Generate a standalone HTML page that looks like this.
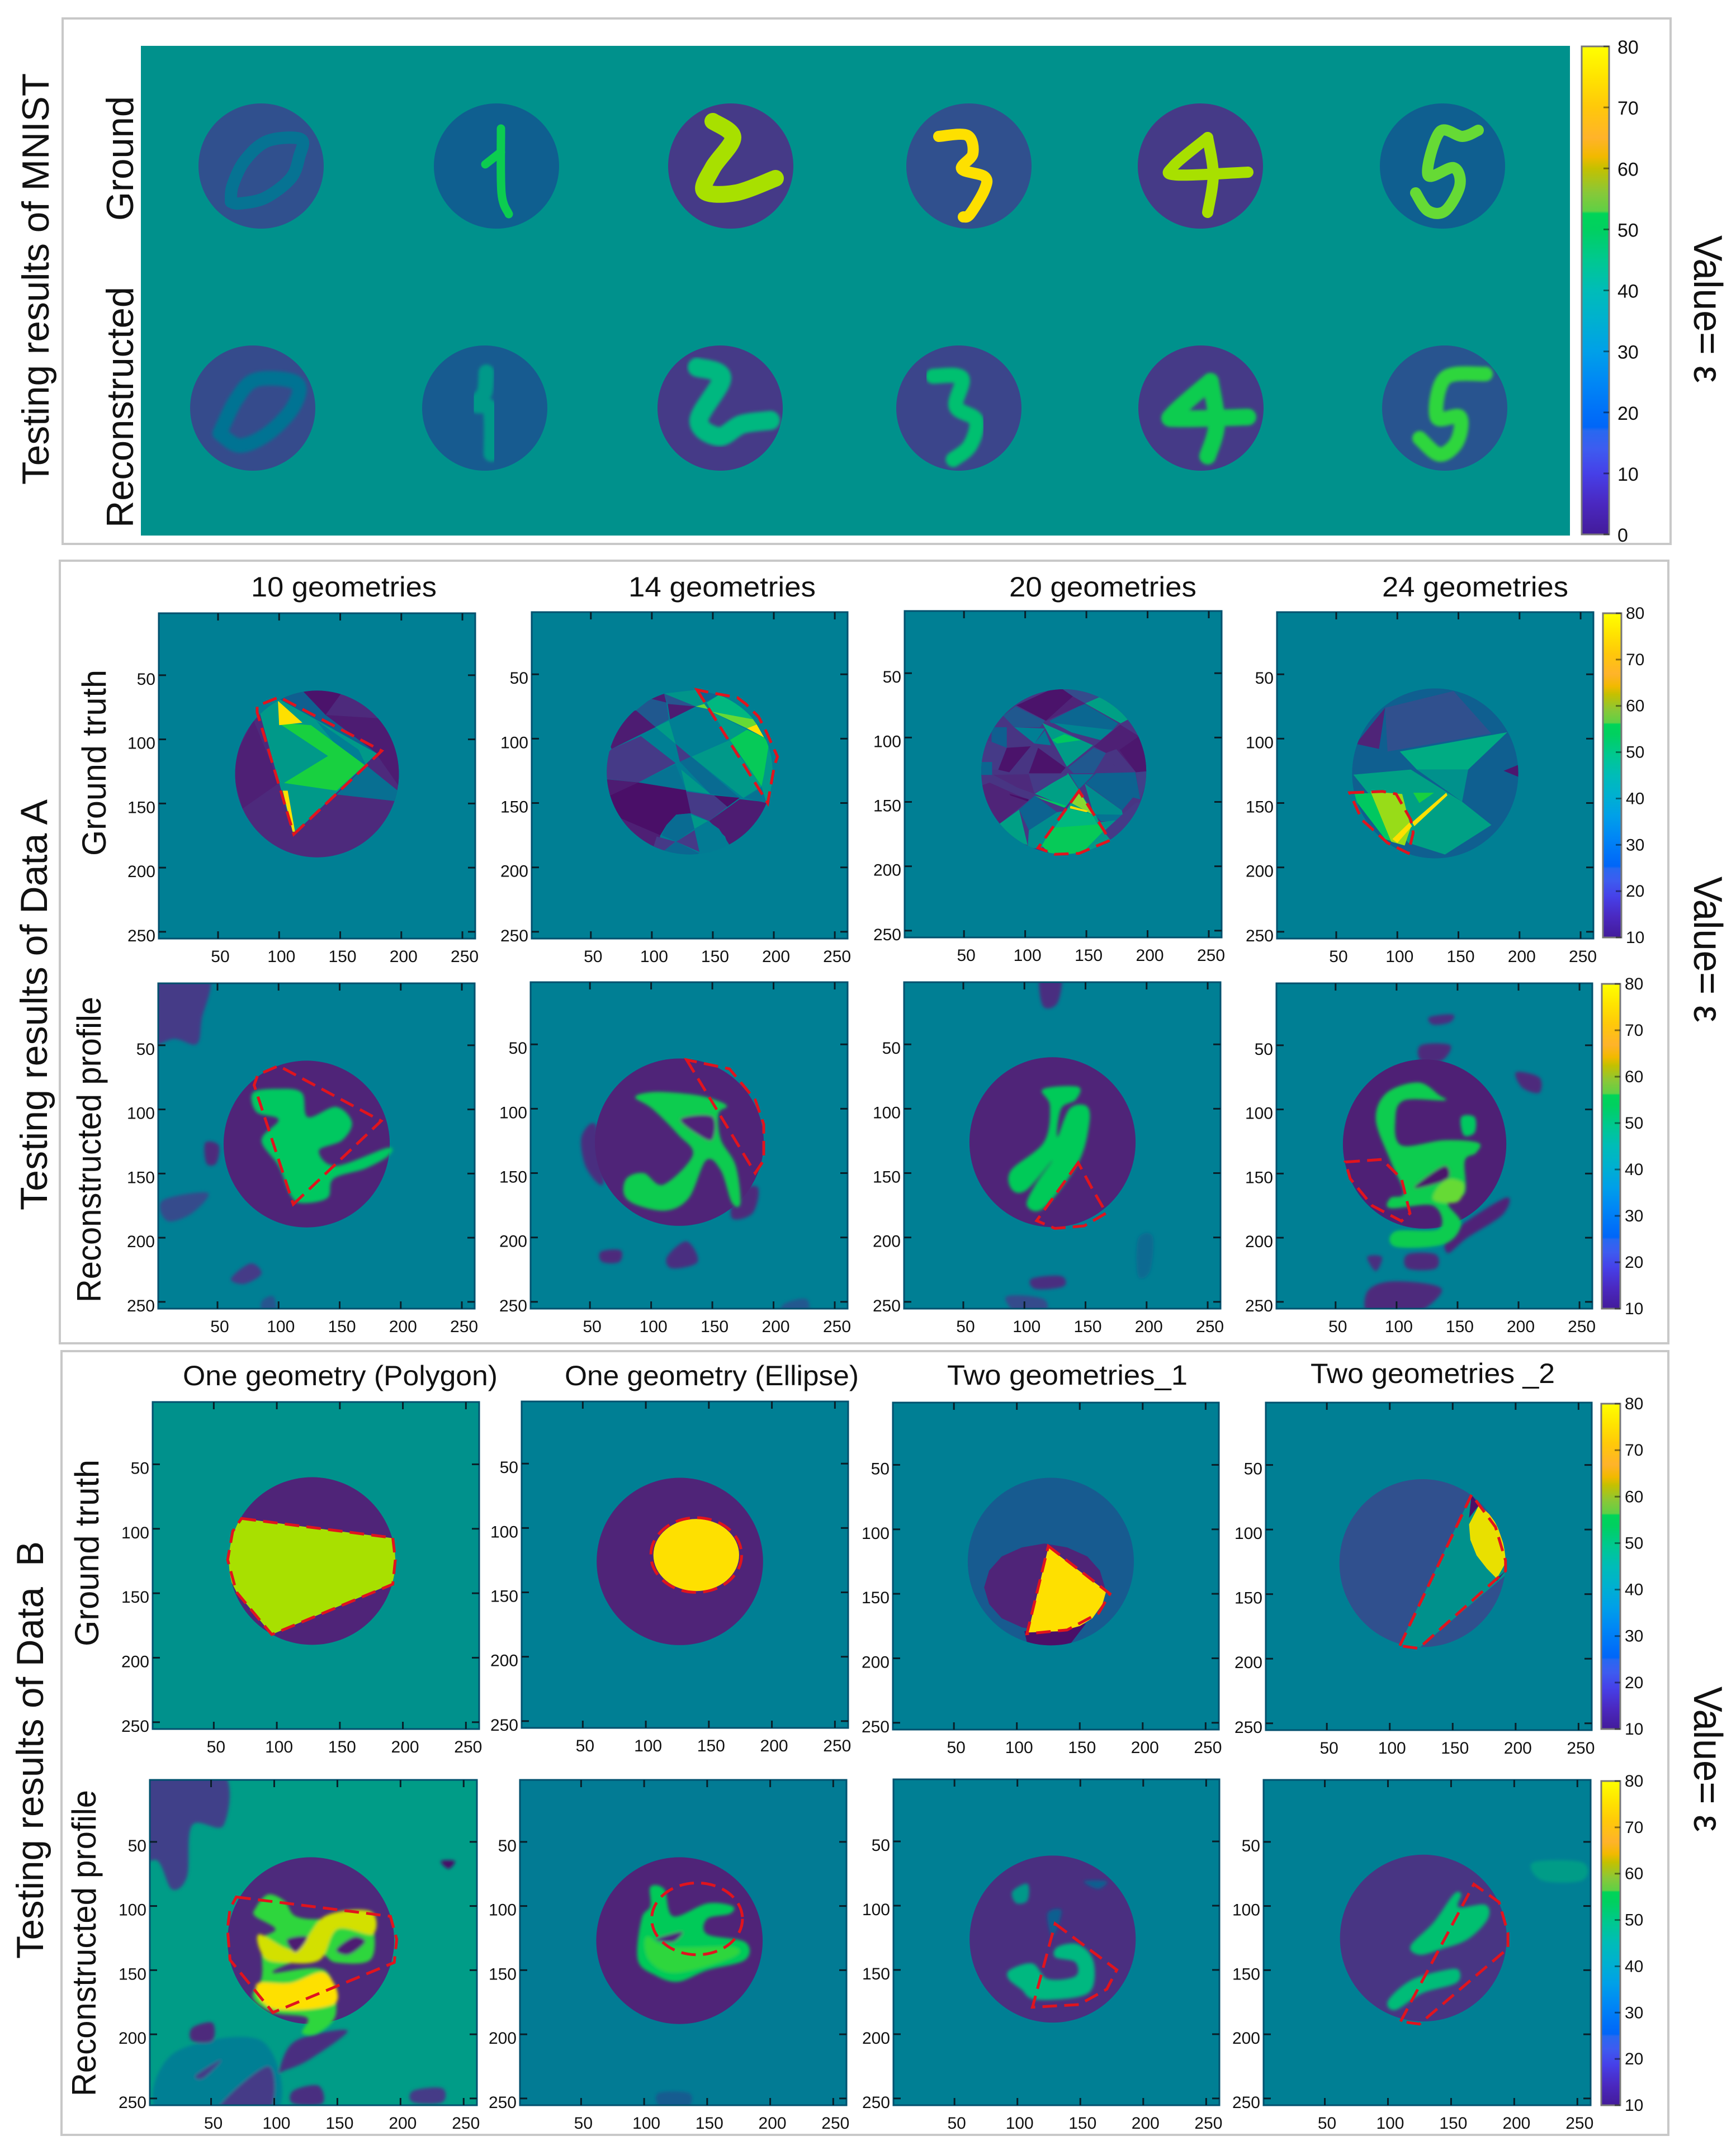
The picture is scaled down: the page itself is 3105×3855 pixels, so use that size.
<!DOCTYPE html>
<html lang="en">
<head>
<meta charset="utf-8">
<title>Testing results of MNIST, Data A and Data B</title>
<style>
html,body{margin:0;padding:0;background:#fff;}
svg{display:block;}
text{font-family:"Liberation Sans",sans-serif;fill:#111;}
</style>
</head>
<body>
<svg id="figure" xmlns="http://www.w3.org/2000/svg" width="3105" height="3855" viewBox="0 0 3105 3855">
  <defs>
    <linearGradient id="cbar-gradient" x1="0" y1="0" x2="0" y2="1"></linearGradient>
    <filter id="soft-blur" x="-15%" y="-15%" width="130%" height="130%"><feGaussianBlur stdDeviation="2.8"></feGaussianBlur></filter>
    <filter id="fine-blur" x="-15%" y="-15%" width="130%" height="130%"><feGaussianBlur stdDeviation="0.8"></feGaussianBlur></filter>
  </defs>
  <rect width="3105" height="3855" fill="#fff"></rect>

  <rect x="112" y="33" width="2876" height="940" fill="#fff" stroke="#C8C8C8" stroke-width="4"></rect>
  <rect x="107" y="1003" width="2877" height="1400" fill="#fff" stroke="#C8C8C8" stroke-width="4"></rect>
  <rect x="110" y="2417" width="2874" height="1402" fill="#fff" stroke="#C8C8C8" stroke-width="4"></rect>

  <text transform="translate(87,867) rotate(-90)" font-size="68" textLength="736" lengthAdjust="spacingAndGlyphs">Testing results of MNIST</text>
  <text transform="translate(238,395) rotate(-90)" font-size="68" textLength="223" lengthAdjust="spacingAndGlyphs">Ground</text>
  <text transform="translate(238,944) rotate(-90)" font-size="68" textLength="431" lengthAdjust="spacingAndGlyphs">Reconstructed</text>
  <text transform="translate(3030,421) rotate(90)" font-size="72" textLength="264" lengthAdjust="spacingAndGlyphs">Value=  ε</text>

  <text transform="translate(84,2165) rotate(-90)" font-size="68" textLength="735" lengthAdjust="spacingAndGlyphs">Testing results of Data A</text>
  <text transform="translate(189,1531) rotate(-90)" font-size="60" textLength="333" lengthAdjust="spacingAndGlyphs">Ground truth</text>
  <text transform="translate(180,2330) rotate(-90)" font-size="60" textLength="547" lengthAdjust="spacingAndGlyphs">Reconstructed profile</text>
  <text transform="translate(3030,1568) rotate(90)" font-size="72" textLength="261" lengthAdjust="spacingAndGlyphs">Value=  ε</text>
  <text x="449" y="1067" font-size="50" textLength="332" lengthAdjust="spacingAndGlyphs">10 geometries</text>
  <text x="1124" y="1067" font-size="50" textLength="335" lengthAdjust="spacingAndGlyphs">14 geometries</text>
  <text x="1805" y="1067" font-size="50" textLength="335" lengthAdjust="spacingAndGlyphs">20 geometries</text>
  <text x="2472" y="1067" font-size="50" textLength="333" lengthAdjust="spacingAndGlyphs">24 geometries</text>

  <text transform="translate(77,3504) rotate(-90)" font-size="68" textLength="747" lengthAdjust="spacingAndGlyphs" xml:space="preserve">Testing results of Data  B</text>
  <text transform="translate(176,2945) rotate(-90)" font-size="60" textLength="334" lengthAdjust="spacingAndGlyphs">Ground truth</text>
  <text transform="translate(171,3750) rotate(-90)" font-size="60" textLength="548" lengthAdjust="spacingAndGlyphs">Reconstructed profile</text>
  <text transform="translate(3030,3017) rotate(90)" font-size="72" textLength="260" lengthAdjust="spacingAndGlyphs">Value=  ε</text>
  <text x="327" y="2478" font-size="50" textLength="563" lengthAdjust="spacingAndGlyphs">One geometry (Polygon)</text>
  <text x="1010" y="2478" font-size="50" textLength="526" lengthAdjust="spacingAndGlyphs">One geometry (Ellipse)</text>
  <text x="1694" y="2477" font-size="50" textLength="430" lengthAdjust="spacingAndGlyphs">Two geometries_1</text>
  <text x="2344" y="2474" font-size="50" textLength="437" lengthAdjust="spacingAndGlyphs" xml:space="preserve">Two geometries _2</text>

  <g id="layer-mnist"></g>
  <g id="layer-panels"></g>
  <g id="layer-colorbars"></g>
</svg>
<script>
// ---------- shared value scales ----------
const axisTickValues = [50, 100, 150, 200, 250];
const mnistColorbarTicks = [0, 10, 20, 30, 40, 50, 60, 70, 80];
const panelColorbarTicks = [10, 20, 30, 40, 50, 60, 70, 80];
const colorbarStopValues = [80, 75, 70, 65, 62, 60, 56, 53, 52.6, 50, 45, 40, 35, 30, 25, 20, 17.6, 17, 14, 10, 5, 0];
const colorbarStopColors = ['#FFFF00','#FFE400','#FFC80A','#FFB32A','#F2B900','#C5C000','#88C838','#5FD045','#00D458','#00D060','#00C890','#00BCB8','#00B0D0','#00A0E8','#0088F5','#0070F8','#0066F8','#2868F0','#3D5CF0','#4640E8','#4A28C0','#431B9A'];
const imageValues = [5, 10, 14, 18, 22, 30, 34, 38, 42, 46, 50, 54, 58, 62, 66];
const imageColors = ['#4A0F68','#4F2478','#453A87','#30508E','#0F5F90','#007F94','#00918C','#00A085','#00B880','#00C860','#18D040','#44DC3A','#88D830','#A8E000','#FEE000'];

// ---------- MNIST digits (disc values, digit values, stroke outlines) ----------
const mnistDiscX = [215, 636, 1055, 1481, 1895, 2328, 200, 615, 1036, 1463, 1896, 2332];
const mnistDiscY = [215, 215, 215, 215, 215, 215, 648, 648, 648, 648, 648, 648];
const mnistDiscValues = [18, 22, 14, 18, 14, 22, 17, 21, 14, 16, 14, 19];
const mnistDigitValues = [27, 48, 62, 66, 62, 56, 27, 36, 42, 44, 48, 52];
const mnistDigitThickness = [22, 15, 30, 20, 20, 20, 26, 28, 34, 27, 30, 26];
const mnistDigitStrokes = [
  [[[-54,64],[-51,35],[-29,-10],[12,-45],[71,-48],[68,-16],[53,22],[7,57],[-39,67],[-54,64]]],
  [[[-20,-3],[8,-25]],[[8,-67],[9,48],[22,86]]],
  [[[-32,-80],[4,-51],[-32,3],[-47,45],[9,48],[80,22]]],
  [[[-54,-53],[-3,-55],[7,-22],[-13,5],[28,19],[28,42],[2,86],[-10,91]]],
  [[[13,-51],[-48,0],[-43,16],[85,11]],[[13,-51],[23,16],[13,83]]],
  [[[64,-64],[36,-53],[-5,-61],[-26,16],[20,3],[31,35],[5,80],[-26,80],[-48,48]]],
  [[[-59,45],[-23,67],[28,45],[73,-3],[78,-45],[7,-51],[-29,-16],[-59,45]]],
  [[[3,-64],[0,-29],[-15,-6],[10,3],[12,82]]],
  [[[-41,-73],[3,-54],[-38,22],[-2,51],[39,29],[90,22]]],
  [[[-46,-57],[5,-54],[-5,-3],[31,22],[20,67],[-10,92]]],
  [[[17,-48],[-49,10],[-39,19],[84,16]],[[17,-48],[28,29],[12,86]]],
  [[[73,-61],[1,-54],[-14,16],[27,16],[22,60],[-9,83],[-45,54]]]
];

// ---------- Data A ground truth ----------
const a1Disc = [131, 127, 67, 65, 11];
const a1Values = [6, 8, 9, 36, 22, 30, 26, 50, 66, 66];
const a1Shapes = [
  [[119,62],[154,60],[138,81]],
  [[138,81],[205,85],[205,146],[180,112]],
  [[79,85],[60,120],[70,154],[100,134]],
  [[84,79],[99,68],[180,111],[112,174],[100,134]],
  [[99,68],[119,62],[138,81],[180,111]],
  [[130,85],[165,108],[171,120],[158,118]],
  [[171,120],[205,146],[194,148],[147,143]],
  [[99,87],[126,89],[170,120],[147,140],[104,134],[140,113]],
  [[99,70],[119,87],[100,89]],
  [[103,140],[107,140],[113,172],[111,172]]
];
const a1Dash = [[112,174],[184,109],[100,67],[82,74],[82,79]];

const a2Disc = [131, 126, 68, 64, 30];
const a2Values = [35, 23, 19, 8, 8, 20, 8, 14, 37, 14, 25, 27, 36, 36, 47, 42, 36, 56, 56, 66, 36, 5, 8, 9, 14, 5, 8, 27, 25, 36, 29, 14, 14, 24];
const a2Shapes = [
  [[110,65],[137,62],[145,72],[136,75]],
  [[137,62],[155,66],[143,72]],
  [[110,65],[136,75],[113,73]],
  [[99,69],[110,65],[112,72]],
  [[113,73],[136,75],[115,85]],
  [[87,78],[99,69],[112,72],[114,85],[103,91]],
  [[87,78],[103,91],[67,108],[61,95],[74,81]],
  [[67,108],[91,98],[119.5,119],[89,134],[60,131],[58,117]],
  [[103,91],[114,86],[119.5,104]],
  [[119.5,104],[132,114],[123,118]],
  [[123,118],[132.5,114],[172,146],[148,143]],
  [[89,134],[119.5,120],[128,140]],
  [[124,124],[148,143],[128,140]],
  [[132.5,114],[164,101],[168,108],[190,137],[175,146]],
  [[164,101],[178,93],[192,99],[196,104],[192,128],[190,137]],
  [[145,72],[155,66],[172,70],[190,86],[181,85],[149,79]],
  [[149,79],[178,93],[164,101]],
  [[149,79],[183,85],[186,89],[178,92]],
  [[136,75],[143,73],[146,77]],
  [[178,92],[186,89],[192,99]],
  [[196,104],[205,124],[194,150],[190,137],[192,128]],
  [[62,143],[89,134],[128,140],[132,158],[120,159],[112,167],[107,175],[70,170]],
  [[58,131],[89,134],[64,145]],
  [[70,160],[107,175],[104,188],[70,180]],
  [[128,141],[151,144],[162,153],[147,164],[132,158]],
  [[151,144],[172,146],[162,153]],
  [[147,164],[172,147],[200,150],[190,170],[164,186],[160,176]],
  [[176,146],[190,138],[194,150]],
  [[108,175],[112,167],[120,159],[132,158],[135,170],[120,180]],
  [[132,159],[146,164],[135,170]],
  [[135,170],[146,164],[155,170],[164,183],[139,192]],
  [[104,176],[119.5,180],[110,187],[100,188]],
  [[120,180],[135,171],[139,188]],
  [[110,187],[120,180],[139,189],[125,195]]
];
const a2Dash = [[137,62],[195,150],[198,134],[200.5,121],[203,114],[194,95],[187.5,83],[177,73],[170,68],[147,64]];

const a3Disc = [131.5, 126.5, 67.4, 64, 13];
const a3Values = [22, 14, 24, 6, 10, 17, 38, 24, 20, 30, 31, 28, 37, 46, 9, 7, 20, 13, 23, 15, 28, 38, 46, 6, 6, 13, 11, 14, 10, 5, 38, 23, 33, 33, 27, 34, 14, 38, 47, 42, 58, 66, 36];
const a3Shapes = [
  [[72.5,92],[85,92],[85,108],[72.5,108]],
  [[60,125],[69,102],[85,108],[78,125]],
  [[64,119],[73,119],[73,129],[64,129]],
  [[93,75],[127,60],[139,68],[117,87]],
  [[117,87],[139,68],[149,73.5],[124,84]],
  [[127,60],[139.5,60],[162,68],[149,73.5],[139,68]],
  [[149,73.5],[162,68],[186,85],[178,89]],
  [[120,87],[144,75.6],[149,74],[176,89],[171.5,94],[121,88.7]],
  [[82,83],[92,75.6],[116,87],[112,92],[91,92]],
  [[91,92],[116,93],[107.5,104.6]],
  [[123,88.7],[171.5,94],[161.6,102],[138,96]],
  [[107.5,104.6],[116,94.5],[121,106]],
  [[114,88.7],[155.5,106],[134,122.7]],
  [[122,101.7],[132,97.4],[145.6,102],[126,104.6]],
  [[156,106.8],[177.6,90],[193,99],[202,126],[190.5,127],[174.5,109],[166,112]],
  [[177,109.6],[193,99],[202,126],[190.5,127]],
  [[135,123.4],[156,108],[166,112],[156,127.7],[139.5,127.7]],
  [[156,127.7],[166,113],[177,127]],
  [[149.4,135.7],[158,127.7],[190,127],[194,148],[188,146.5],[179,156.7]],
  [[190.5,127],[202,126],[194,148]],
  [[136.5,128.5],[156,128.5],[148.6,135.7],[144,140]],
  [[108,143.7],[135,127.7],[144,140.8],[133,154],[126,151]],
  [[107.5,145],[133.4,153],[132,154.5],[113.6,148]],
  [[78,125],[85,108],[104.5,106.8],[87,127]],
  [[103,127.7],[110.6,108],[133,123.4],[129,127.7]],
  [[85,92],[91,92],[106,105],[85,108]],
  [[74,129],[103,128.5],[107.5,143.7],[94,139]],
  [[103,128.5],[135,128.5],[107.5,143]],
  [[62,138],[71,135],[103,148.7],[79,167],[70,154]],
  [[87,143.7],[103,148],[102,149.5],[88,145]],
  [[79,167],[95,156],[102,183.5],[85,178]],
  [[95,156],[108,145],[126,158],[103,172]],
  [[102,186],[103,172],[126,158],[133,157],[113.6,186]],
  [[148.6,135.7],[179,156.7],[180,161],[156,159.6]],
  [[156,159.6],[180.6,160],[183.7,165],[162,165]],
  [[159,166],[176,164],[164.6,172.6]],
  [[164.6,172.6],[179,160],[190,151],[196,149.5],[186,170],[170,180]],
  [[144,141.5],[133,157],[113.6,184],[122,192],[144,192],[168,180],[164,172.6],[158,161]],
  [[122,170],[159,167],[164,172.6],[144,192],[122,192],[113.6,184]],
  [[135,155],[154.7,159.6],[159,167.5],[124,170]],
  [[144,141.5],[150,151],[154.7,159.6],[138,151]],
  [[137,153],[151.7,157],[150,158],[136.5,155]],
  [[144,192],[170,180],[164,172.6]]
];
const a3Dash = [[144,141.5],[110.6,185.6],[124,190.7],[144,190],[169,180],[164.6,172.6]];

const a4Disc = [131, 127, 68, 66, 22];
const a4Values = [10, 18, 40, 38, 34, 46, 60, 66, 66, 50, 7];
const a4Shapes = [
  [[66,104],[90,76],[85,108]],
  [[146,63],[177,96],[92,110],[90,76]],
  [[102,110],[190,95],[158,124],[116,124]],
  [[64,128],[111,124],[153,149],[177,167],[139,190],[109,181]],
  [[116,124],[158,124],[153,149]],
  [[61,142],[99,143],[111,169],[106,183],[90,178]],
  [[78,141],[104,143],[111,169],[106,183],[95,180]],
  [[96,178],[110,165],[112,168],[100,181]],
  [[112,165],[140,142],[141,144],[114,168]],
  [[113,142],[130,142],[118,150]],
  [[187,125],[200,120],[200,130]]
];
const a4Dash = [[61,142],[88,141],[99,143],[111,163],[113,173],[109,189],[92,181],[71,163]];

// ---------- Data A reconstructed ----------
const a5Disc = [123, 127, 68, 65, 10];
const a5BlobValues = [14, 17, 11, 14, 19];
const a5Blobs = [
  [[-8,-5],[42,-5],[37,30],[33,49],[15,45],[-8,47]],
  [[5,171],[42,165],[29,181],[9,187]],
  [[40,126],[51,128],[49,142],[41,142]],
  [[61,232],[77,220],[86,228],[72,236]],
  [[86,250],[96,246],[98,262],[88,262]]
];
const a5Values = [46];
const a5Shapes = [
  [[79,87],[100,84],[119,87],[124,106],[147,98],[160,110],[152,124],[133,132],[147,144],[189,130],[190,136],[171,146],[145,154],[140,169],[119,173],[110,167],[100,144],[86,124],[100,108],[82,102]]
];
const a5Dash = [[112,174],[184,109],[100,66],[83,73],[80,81]];

const a6Disc = [123, 126, 69, 65, 10];
const a6BlobValues = [12, 11, 11, 12, 20];
const a6Blobs = [
  [[43,122],[55,113],[61,158],[47,146]],
  [[169,165],[187,161],[183,181],[166,185]],
  [[59,211],[75,210],[74,219],[60,219]],
  [[113,215],[129,203],[138,219],[117,224]],
  [[208,252],[227,248],[227,262],[208,262]]
];
const a6Values = [48, 10];
const a6Shapes = [
  [[87,91],[103,87],[134,89],[152,93],[162,98],[155,104],[157,124],[169,144],[173,173],[166,173],[157,148],[145,140],[131,169],[113,179],[89,175],[78,167],[80,154],[94,150],[110,159],[134,136],[122,120],[101,100]],
  [[124,108],[150,106],[150,124],[138,120]]
];
const a6Dash = [[129,62],[185,150],[192,140],[192,112],[185,93],[164,69]];

const a7Disc = [123, 126, 68, 66, 10];
const a7BlobValues = [12, 12, 17, 25];
const a7Blobs = [
  [[113,-5],[130,-5],[127,18],[115,20]],
  [[106,232],[130,230],[132,238],[109,240]],
  [[85,246],[116,248],[116,262],[97,262]],
  [[193,201],[205,199],[203,226],[193,230]]
];
const a7Values = [47];
const a7Shapes = [
  [[115,85],[144,83],[142,93],[130,100],[127,122],[137,100],[151,98],[153,112],[144,142],[116,177],[102,175],[109,159],[123,140],[102,163],[90,163],[89,148],[116,126],[121,98]]
];
const a7Dash = [[144,142],[110,187],[125,193],[149,191],[167,181],[156,163]];

const a8Disc = [123, 127, 67, 66, 9];
const a8BlobValues = [11, 11, 12, 11, 12, 11, 10];
const a8Blobs = [
  [[76,242],[97,234],[137,240],[111,262],[78,262]],
  [[109,213],[132,213],[132,224],[109,224]],
  [[76,215],[88,215],[83,226]],
  [[198,71],[217,75],[217,87],[203,83]],
  [[127,28],[146,26],[144,32],[130,34]],
  [[120,50],[144,50],[137,62],[120,62]],
  [[144,197],[189,169],[187,182],[158,200],[142,212]]
];
const a8Values = [48, 6, 56, 46];
const a8Shapes = [
  [[83,108],[92,87],[118,79],[135,89],[139,93],[106,93],[99,108],[104,128],[139,124],[167,126],[165,134],[156,140],[156,165],[142,173],[153,189],[139,205],[99,207],[99,195],[135,193],[130,175],[95,177],[95,169],[106,165],[95,140]],
  [[116,159],[139,144],[142,154],[120,161]],
  [[140,155],[155,158],[150,172],[130,170]],
  [[153,106],[164,106],[164,118],[155,120]]
];
const a8Dash = [[58,141],[88,139],[104,154],[111,181],[104,187],[80,175],[62,154]];

// ---------- Data B ground truth ----------
const b1Disc = [128, 125, 66, 65, 10];
const b1Values = [62];
const b1Shapes = [[[72,92],[205,109],[205,137],[96,182],[68,149],[55,124],[58,102]]];
const b1Dash = [[72,92],[192,107],[194,124],[192,143],[96,182],[68,149],[61,124],[65,102]];

const b2Disc = [127, 126, 66, 65, 10];
const b2Ellipse = [140, 121, 34, 28, 66];
const b2DashEllipse = [140, 121, 36, 29];

const b3Disc = [127, 125, 66, 65, 21];
const b3Values = [10, 5, 66];
const b3Shapes = [
  [[170,145],[166,158],[156,169],[140,176],[122,179],[104,176],[88,169],[78,158],[74,145],[78,132],[88,121],[104,114],[122,111],[140,114],[156,121],[166,132]],
  [[106,179],[155,173],[140,192],[109,192]],
  [[125,114],[171,148],[168,158],[160,169],[150,175],[135,179],[109,180]]
];
const b3Dash = [[125,113],[174,150],[165,165],[140,178],[108,181]];

const b4Disc = [126, 126, 66, 65, 18];
const b4Values = [34, 65, 5, 5];
const b4Shapes = [
  [[165,73],[196,120],[196,132],[123,192],[108,189]],
  [[171,81],[179,88],[185,96],[190,110],[193,124],[185,138],[177,130],[169,120],[164,108],[163,96]],
  [[165,73],[171,81],[163,91]],
  [[185,138],[192,132],[185,140]]
];
const b4Dash = [[108,190],[165,73],[184,98],[192,124],[192,132],[123,192]];

// ---------- Data B reconstructed ----------
const b5Disc = [129, 127, 66, 65, 11];
const b5BlobValues = [30, 15, 11, 12, 14, 12, 14, 5, 14];
const b5Blobs = [
  [[20,215],[90,205],[100,262],[10,262]],
  [[-8,-5],[58,-5],[60,37],[35,37],[31,77],[19,87],[8,65],[-8,61]],
  [[35,195],[51,191],[51,205],[35,205]],
  [[104,228],[117,205],[158,197],[129,219],[109,228]],
  [[53,262],[95,225],[95,262]],
  [[115,244],[135,240],[138,254],[115,254]],
  [[210,244],[233,242],[233,253],[210,253]],
  [[232,65],[243,65],[238,71]],
  [[38,232],[58,220],[44,234]]
];
const b5Values = [52, 64, 66, 8, 8];
const b5Shapes = [
  [[85,102],[95,91],[108,96],[117,108],[140,110],[172,104],[179,118],[176,142],[149,144],[138,138],[120,142],[99,152],[140,150],[149,183],[135,199],[122,199],[126,187],[99,183],[83,171],[90,156],[90,138],[88,126],[101,118],[85,108]],
  [[88,122],[117,134],[140,108],[176,104],[178,122],[150,118],[136,142],[108,144],[92,140]],
  [[86,161],[113,160],[140,152],[148,176],[99,180]],
  [[110,126],[126,124],[117,136]],
  [[149,134],[163,124],[172,128],[159,138]]
];
const b5Dash = [[70,93],[192,108],[197,126],[195,144],[99,183],[65,142],[63,118],[65,102]];

const b6Disc = [128, 127, 66, 65, 10];
const b6BlobValues = [21];
const b6Blobs = [[[111,246],[136,246],[134,258],[114,258]]];
const b6Values = [47, 52, 10];
const b6Shapes = [
  [[105,85],[116,87],[123,108],[150,98],[170,100],[168,106],[150,110],[150,122],[180,128],[180,142],[150,150],[127,159],[109,154],[95,142],[98,110],[105,100]],
  [[102,124],[120,132],[170,132],[170,140],[125,152],[104,142]],
  [[109,126],[130,120],[123,128]]
];
const b6DashEllipse = [142, 110, 36, 28];

const b7Disc = [128, 126, 66, 65, 12];
const b7BlobValues = [24];
const b7Blobs = [[[160,158],[170,160],[168,170]]];
const b7Values = [42, 36, 22, 22];
const b7Shapes = [
  [[94,150],[112,145],[124,157],[146,155],[146,144],[130,140],[132,132],[148,130],[160,142],[160,163],[148,171],[114,173],[103,165],[93,157]],
  [[96,89],[108,83],[108,96],[99,98]],
  [[153,81],[171,81],[164,87]],
  [[124,106],[135,104],[128,124]]
];
const b7Dash = [[130,114],[179,150],[171,165],[149,177],[112,179]];

const b8Disc = [128, 125, 66, 65, 13];
const b8BlobValues = [37];
const b8Blobs = [[[215,66],[254,66],[254,80],[222,80]]];
const b8Values = [44, 43];
const b8Shapes = [
  [[118,131],[136,113],[152,91],[158,91],[156,101],[177,99],[179,110],[163,126],[141,134],[125,138]],
  [[100,174],[118,158],[145,150],[156,150],[154,160],[127,168],[106,181]]
];
const b8Dash = [[110,190],[168,83],[188,97],[195,121],[195,133],[125,192]];

// ---------- helpers ----------
const NS = 'http://www.w3.org/2000/svg';
function node(tag, parent, attrs) {
  const el = document.createElementNS(NS, tag);
  for (const k in attrs) el.setAttribute(k, attrs[k]);
  parent.appendChild(el);
  return el;
}
function hexToRgb(h) {
  return [parseInt(h.slice(1,3),16), parseInt(h.slice(3,5),16), parseInt(h.slice(5,7),16)];
}
function colour(v) {
  if (v <= imageValues[0]) return imageColors[0];
  for (let i = 1; i < imageValues.length; i++) {
    if (v <= imageValues[i]) {
      const t = (v - imageValues[i-1]) / (imageValues[i] - imageValues[i-1]);
      const a = hexToRgb(imageColors[i-1]), b = hexToRgb(imageColors[i]);
      return 'rgb(' + a.map((c, j) => Math.round(c + (b[j] - c) * t)).join(',') + ')';
    }
  }
  return imageColors[imageColors.length - 1];
}
function straightPath(points, fx, fy) {
  return points.map((p, i) => (i ? 'L' : 'M') + fx(p[0]).toFixed(1) + ' ' + fy(p[1]).toFixed(1)).join(' ') + ' Z';
}
function smoothPath(points, fx, fy) {
  const n = points.length;
  const P = points.map(p => [fx(p[0]), fy(p[1])]);
  let d = 'M' + P[0][0].toFixed(1) + ' ' + P[0][1].toFixed(1);
  for (let i = 0; i < n; i++) {
    const p0 = P[(i - 1 + n) % n], p1 = P[i], p2 = P[(i + 1) % n], p3 = P[(i + 2) % n];
    const c1 = [p1[0] + (p2[0] - p0[0]) / 6, p1[1] + (p2[1] - p0[1]) / 6];
    const c2 = [p2[0] - (p3[0] - p1[0]) / 6, p2[1] - (p3[1] - p1[1]) / 6];
    d += ' C' + c1[0].toFixed(1) + ' ' + c1[1].toFixed(1) + ' ' + c2[0].toFixed(1) + ' ' + c2[1].toFixed(1) + ' ' + p2[0].toFixed(1) + ' ' + p2[1].toFixed(1);
  }
  return d + ' Z';
}
function openSmoothPath(points, fx, fy) {
  const n = points.length;
  const P = points.map(p => [fx(p[0]), fy(p[1])]);
  let d = 'M' + P[0][0].toFixed(1) + ' ' + P[0][1].toFixed(1);
  for (let i = 0; i < n - 1; i++) {
    const p0 = P[Math.max(i - 1, 0)], p1 = P[i], p2 = P[i + 1], p3 = P[Math.min(i + 2, n - 1)];
    const c1 = [p1[0] + (p2[0] - p0[0]) / 6, p1[1] + (p2[1] - p0[1]) / 6];
    const c2 = [p2[0] - (p3[0] - p1[0]) / 6, p2[1] - (p3[1] - p1[1]) / 6];
    d += ' C' + c1[0].toFixed(1) + ' ' + c1[1].toFixed(1) + ' ' + c2[0].toFixed(1) + ' ' + c2[1].toFixed(1) + ' ' + p2[0].toFixed(1) + ' ' + p2[1].toFixed(1);
  }
  return d;
}

// ---------- colorbar gradient ----------
const gradient = document.getElementById('cbar-gradient');
colorbarStopValues.forEach((v, i) => {
  node('stop', gradient, { offset: (1 - v / 80).toFixed(4), 'stop-color': colorbarStopColors[i] });
});

// ---------- MNIST panel ----------
const mnistLayer = document.getElementById('layer-mnist');
const mnistLeft = 252, mnistTop = 82, mnistRight = 2808, mnistBottom = 958, mnistDiscRadius = 112;
const mnistX = v => mnistLeft + v;
const mnistY = v => mnistTop + v;
const mnistBg = node('rect', mnistLayer, { x: mnistLeft, y: mnistTop, width: mnistRight - mnistLeft, height: mnistBottom - mnistTop, fill: colour(34) });


mnistDiscValues.forEach((value, i) => {
  const cx = mnistDiscX[i], cy = mnistDiscY[i];
  const disc = node('circle', mnistLayer, { cx: mnistX(cx), cy: mnistY(cy), r: mnistDiscRadius, fill: colour(value) });
  
  
  const digit = node('g', mnistLayer, { fill: 'none', stroke: colour(mnistDigitValues[i]), 'stroke-width': mnistDigitThickness[i], 'stroke-linejoin': 'round', 'stroke-linecap': 'round' });
  
  
  if (i >= 6) digit.setAttribute('filter', 'url(#soft-blur)');
  mnistDigitStrokes[i].forEach(stroke => {
    const line = node('path', digit, { d: openSmoothPath(stroke, v => mnistX(cx + v), v => mnistY(cy + v)) });
    
    
  });
});

// ---------- heatmap panels ----------
const panelLayer = document.getElementById('layer-panels');
const xDomain = [1.5, 260.5];
const yDomain = [1.7, 255.3];
const panels = [
  { id: 'a1', box: [284,1097,850,1679], bg: 30, disc: a1Disc, values: a1Values, shapes: a1Shapes, dash: a1Dash },
  { id: 'a2', box: [951,1095,1516,1679], bg: 30, disc: a2Disc, values: a2Values, shapes: a2Shapes, dash: a2Dash },
  { id: 'a3', box: [1618,1093,2185,1677], bg: 30, disc: a3Disc, values: a3Values, shapes: a3Shapes, dash: a3Dash },
  { id: 'a4', box: [2284,1095,2850,1679], bg: 30, disc: a4Disc, values: a4Values, shapes: a4Shapes, dash: a4Dash },
  { id: 'a5', box: [283,1759,849,2341], bg: 30, disc: a5Disc, blobValues: a5BlobValues, blobs: a5Blobs, values: a5Values, shapes: a5Shapes, dash: a5Dash, soft: true },
  { id: 'a6', box: [949,1757,1516,2341], bg: 30, disc: a6Disc, blobValues: a6BlobValues, blobs: a6Blobs, values: a6Values, shapes: a6Shapes, dash: a6Dash, soft: true },
  { id: 'a7', box: [1617,1757,2183,2341], bg: 30, disc: a7Disc, blobValues: a7BlobValues, blobs: a7Blobs, values: a7Values, shapes: a7Shapes, dash: a7Dash, soft: true },
  { id: 'a8', box: [2283,1759,2848,2341], bg: 30, disc: a8Disc, blobValues: a8BlobValues, blobs: a8Blobs, values: a8Values, shapes: a8Shapes, dash: a8Dash, soft: true },
  { id: 'b1', box: [273,2508,857,3093], bg: 34, disc: b1Disc, values: b1Values, shapes: b1Shapes, dash: b1Dash },
  { id: 'b2', box: [933,2507,1517,3091], bg: 30, disc: b2Disc, ellipse: b2Ellipse, dashEllipse: b2DashEllipse },
  { id: 'b3', box: [1597,2509,2180,3094], bg: 30, disc: b3Disc, values: b3Values, shapes: b3Shapes, dash: b3Dash },
  { id: 'b4', box: [2264,2509,2847,3095], bg: 30, disc: b4Disc, values: b4Values, shapes: b4Shapes, dash: b4Dash },
  { id: 'b5', box: [268,3184,853,3766], bg: 37, disc: b5Disc, blobValues: b5BlobValues, blobs: b5Blobs, values: b5Values, shapes: b5Shapes, dash: b5Dash, soft: true },
  { id: 'b6', box: [930,3184,1514,3766], bg: 29, disc: b6Disc, blobValues: b6BlobValues, blobs: b6Blobs, values: b6Values, shapes: b6Shapes, dashEllipse: b6DashEllipse, soft: true },
  { id: 'b7', box: [1598,3183,2181,3766], bg: 30, disc: b7Disc, blobValues: b7BlobValues, blobs: b7Blobs, values: b7Values, shapes: b7Shapes, dash: b7Dash, soft: true },
  { id: 'b8', box: [2260,3184,2845,3766], bg: 30, disc: b8Disc, blobValues: b8BlobValues, blobs: b8Blobs, values: b8Values, shapes: b8Shapes, dash: b8Dash, soft: true }
];

const defs = document.querySelector('#figure defs');
panels.forEach(panel => {
  const [L, T, R, B] = panel.box;
  const xAxis = v => L + (v - xDomain[0]) * (R - L) / (xDomain[1] - xDomain[0]);
  const yAxis = v => T + (v - yDomain[0]) * (B - T) / (yDomain[1] - yDomain[0]);
  const toPath = panel.soft ? smoothPath : straightPath;

  const clip = node('clipPath', defs, { id: 'clip-' + panel.id });
  node('rect', clip, { x: L, y: T, width: R - L, height: B - T });
  const discClip = node('clipPath', defs, { id: 'disc-' + panel.id });
  const d = panel.disc;
  const rxPx = xAxis(d[0] + d[2]) - xAxis(d[0]);
  const ryPx = yAxis(d[1] + d[3]) - yAxis(d[1]);
  node('ellipse', discClip, { cx: xAxis(d[0]), cy: yAxis(d[1]), rx: rxPx, ry: ryPx });

  const group = node('g', panelLayer, {});
  
  
  const inner = node('g', group, { 'clip-path': 'url(#clip-' + panel.id + ')' });

  const bg = node('rect', inner, { x: L, y: T, width: R - L, height: B - T, fill: colour(panel.bg) });
  
  

  if (panel.blobs) {
    const blobLayer = node('g', inner, { filter: 'url(#soft-blur)' });
    panel.blobs.forEach((outline, i) => {
      const blob = node('path', blobLayer, { d: smoothPath(outline, xAxis, yAxis), fill: colour(panel.blobValues[i]) });
      
      
    });
  }

  const disc = node('ellipse', inner, { cx: xAxis(d[0]), cy: yAxis(d[1]), rx: rxPx, ry: ryPx, fill: colour(d[4]) });
  
  

  const shapeLayer = node('g', inner, panel.soft ? { filter: 'url(#soft-blur)' } : { 'clip-path': 'url(#disc-' + panel.id + ')' });
  if (panel.shapes) {
    panel.shapes.forEach((outline, i) => {
      const region = node('path', shapeLayer, { d: toPath(outline, xAxis, yAxis), fill: colour(panel.values[i]) });
      
      
    });
  }
  if (panel.ellipse) {
    const e = panel.ellipse;
    const lens = node('ellipse', shapeLayer, { cx: xAxis(e[0]), cy: yAxis(e[1]), rx: xAxis(e[0] + e[2]) - xAxis(e[0]), ry: yAxis(e[1] + e[3]) - yAxis(e[1]), fill: colour(e[4]) });
    
    
  }
  const dashStyle = { fill: 'none', stroke: '#E0141E', 'stroke-width': 5, 'stroke-dasharray': '26 13' };
  if (panel.dash) {
    const outline = node('path', inner, Object.assign({ d: straightPath(panel.dash, xAxis, yAxis) }, dashStyle));
    
    
  }
  if (panel.dashEllipse) {
    const e = panel.dashEllipse;
    const outline = node('ellipse', inner, Object.assign({ cx: xAxis(e[0]), cy: yAxis(e[1]), rx: xAxis(e[0] + e[2]) - xAxis(e[0]), ry: yAxis(e[1] + e[3]) - yAxis(e[1]) }, dashStyle));
    
    
  }

  const frame = node('rect', group, { x: L, y: T, width: R - L, height: B - T, fill: 'none', stroke: '#00506E', 'stroke-width': 3 });
  
  

  axisTickValues.forEach(v => {
    const px = xAxis(v), py = yAxis(v);
    [[px, B, px, B - 13], [px, T, px, T + 13]].forEach(c => {
      const tick = node('line', group, { x1: c[0], y1: c[1], x2: c[2], y2: c[3], stroke: '#0A1E28', 'stroke-width': 3 });
      
      
    });
    [[L, py, L + 13, py], [R, py, R - 13, py]].forEach(c => {
      const tick = node('line', group, { x1: c[0], y1: c[1], x2: c[2], y2: c[3], stroke: '#0A1E28', 'stroke-width': 3 });
      
      
    });
    const xLabel = node('text', group, { x: px + 4, y: B + 42, 'font-size': 30, 'text-anchor': 'middle', fill: '#222' });
    
    
    xLabel.textContent = v;
    const yLabel = node('text', group, { x: L - 6, y: py + 17, 'font-size': 30, 'text-anchor': 'end', fill: '#222' });
    
    
    yLabel.textContent = v;
  });
});

// ---------- colorbars ----------
const colorbarLayer = document.getElementById('layer-colorbars');
const colorbars = [
  { box: [2829,83,2878,956], ticks: mnistColorbarTicks, size: 34, gap: 15, drop: 13 },
  { box: [2867,1097,2900,1677], ticks: panelColorbarTicks, size: 30, gap: 8, drop: 10 },
  { box: [2865,1760,2898,2341], ticks: panelColorbarTicks, size: 30, gap: 8, drop: 10 },
  { box: [2864,2511,2898,3093], ticks: panelColorbarTicks, size: 30, gap: 8, drop: 10 },
  { box: [2864,3186,2898,3766], ticks: panelColorbarTicks, size: 30, gap: 8, drop: 10 }
];
colorbars.forEach(bar => {
  const [L, T, R, B] = bar.box;
  const lo = bar.ticks[0], hi = bar.ticks[bar.ticks.length - 1];
  const scale = v => B - (v - lo) / (hi - lo) * (B - T);
  const body = node('rect', colorbarLayer, { x: L, y: T, width: R - L, height: B - T, fill: 'url(#cbar-gradient)', stroke: '#777', 'stroke-width': 3 });
  
  
  bar.ticks.forEach(v => {
    const py = scale(v);
    const tick = node('line', colorbarLayer, { x1: R - 10, y1: py, x2: R, y2: py, stroke: 'rgba(0,0,0,0.45)', 'stroke-width': 3 });
    
    
    const label = node('text', colorbarLayer, { x: R + bar.gap, y: py + bar.drop, 'font-size': bar.size, fill: '#444' });
    
    
    label.textContent = v;
  });
});
</script>
</body>
</html>
